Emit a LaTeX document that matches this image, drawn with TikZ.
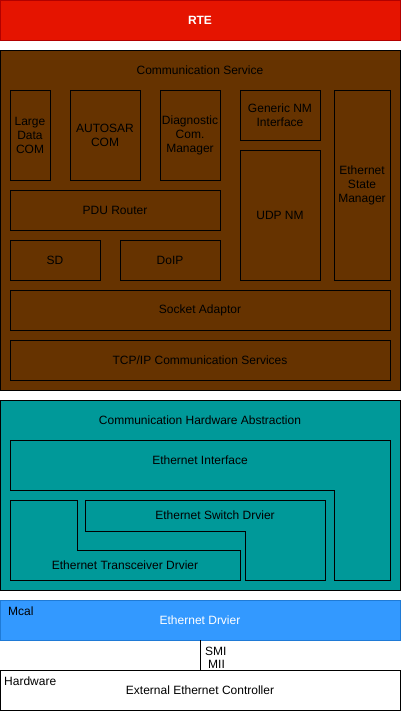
\documentclass[tikz,border=0pt]{standalone}
\usepackage{fontspec}
\setmainfont{Liberation Sans}
\usepackage{tikz}
\usetikzlibrary{arrows.meta}

\definecolor{rtered}{HTML}{E51400}
\definecolor{rteline}{HTML}{B20000}
\definecolor{svcbrown}{HTML}{663300}
\definecolor{hwteal}{HTML}{009999}
\definecolor{mcalblue}{HTML}{3399FF}
\definecolor{mcalline}{HTML}{1F7AD6}

\tikzset{
  blk/.style={draw=black, line width=0.8pt, rectangle, inner sep=0pt, align=center,
    font=\fontsize{12}{14}\selectfont},
  lbl/.style={inner sep=0pt, align=center, font=\fontsize{12}{14}\selectfont},
}

\begin{document}
\begin{tikzpicture}[x=1pt, y=-1pt]
				\useasboundingbox (0,0) rectangle (401,711);
				% RTE
				\node[blk, draw=rteline, fill=rtered, text=white, minimum width=400pt, minimum height=40pt,
				  font=\fontsize{12}{14}\selectfont\bfseries] (rte) at (200,20) {RTE};
				% communication service
				\fill[svcbrown] (0,50) rectangle (400,390);
				\draw[line width=0.8pt] (0,50) rectangle (400,390);
				\node[lbl] (cs) at (200,70) {Communication Service};
				\node[blk, minimum width=40pt, minimum height=90pt] (ldcom) at (30,135) {Large\\Data\\COM};
				\node[blk, minimum width=70pt, minimum height=90pt] (ascom) at (105,135) {AUTOSAR\\COM};
				\node[blk, minimum width=60pt, minimum height=90pt] (dcm) at (190,135) {Diagnostic\\Com.\\Manager};
				\node[blk, minimum width=80pt, minimum height=50pt] (nmif) at (280,115) {Generic NM\\Interface};
				\node[blk, minimum width=80pt, minimum height=130pt] (udpnm) at (280,215) {UDP NM};
				\node[blk, minimum width=56pt, minimum height=190pt] (ethsm) at (362,185) {Ethernet\\State\\Manager};
				\node[blk, minimum width=210pt, minimum height=40pt] (pdur) at (115,210) {PDU Router};
				\node[blk, minimum width=90pt, minimum height=40pt] (sd) at (55,260) {SD};
				\node[blk, minimum width=100pt, minimum height=40pt] (doip) at (170,260) {DoIP};
				\node[blk, minimum width=380pt, minimum height=40pt] (soad) at (200,310) {Socket Adaptor};
				\node[blk, minimum width=380pt, minimum height=40pt] (tcpip) at (200,360) {TCP/IP Communication Services};
				% communication hardware abstraction
				\fill[hwteal] (0,400) rectangle (400,590);
				\draw[line width=0.8pt] (0,400) rectangle (400,590);
				\node[lbl] (cha) at (200,420) {Communication Hardware Abstraction};
				\draw[line width=0.8pt] (10,440) -- (390,440) -- (390,580) -- (334,580) -- (334,490) -- (10,490) -- cycle;
				\node[lbl] (ethif) at (200,460) {Ethernet Interface};
				\draw[line width=0.8pt] (85,500) -- (325,500) -- (325,580) -- (245,580) -- (245,531) -- (85,531) -- cycle;
				\node[lbl] (ethswt) at (215,515) {Ethernet Switch Drvier};
				\draw[line width=0.8pt] (10,500) -- (77,500) -- (77,550) -- (240,550) -- (240,580) -- (10,580) -- cycle;
				\node[lbl] (ethtrcv) at (125,565) {Ethernet Transceiver Drvier};
				% mcal
				\node[blk, draw=mcalline, fill=mcalblue, text=white, minimum width=400pt, minimum height=40pt] (eth) at (200,620) {Ethernet Drvier};
				\node[lbl, anchor=west] (mcal) at (8,611) {Mcal};
				% hardware
				\node[blk, fill=white, minimum width=400pt, minimum height=40pt] (extctrl) at (200,690) {External Ethernet Controller};
				\node[lbl, anchor=west] (hw) at (4,681) {Hardware};
				\draw[line width=0.8pt] (eth.south) -- (extctrl.north);
				\node[lbl, anchor=west] (smi) at (205,651) {SMI};
				\node[lbl, anchor=west] (mii) at (208,664) {MII};
		\end{tikzpicture}
\end{document}
